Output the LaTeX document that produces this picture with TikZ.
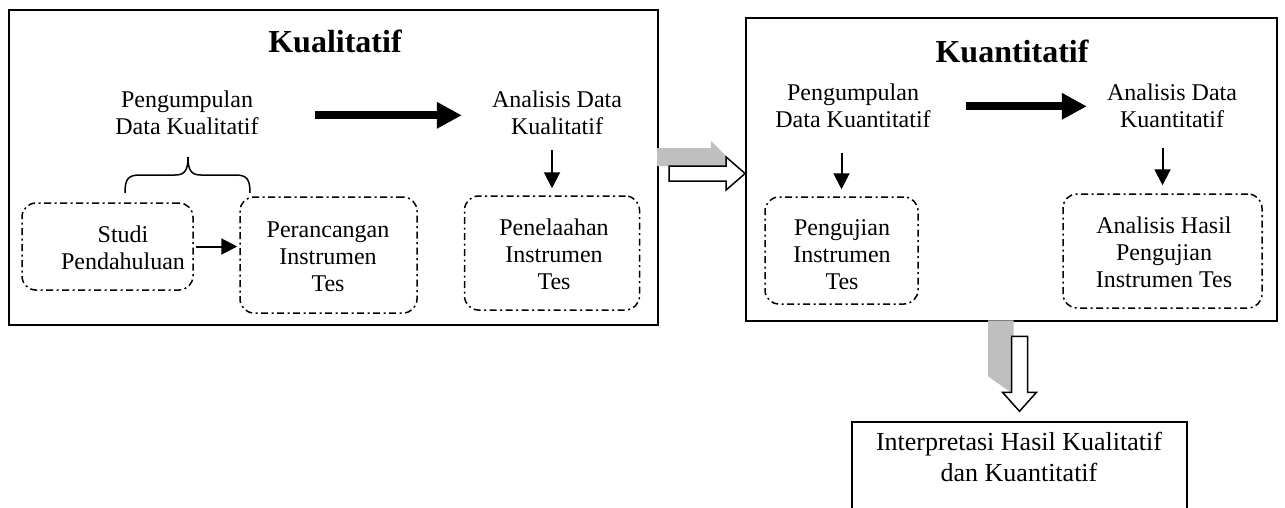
\documentclass[tikz,border=0pt]{standalone}
\usepackage{fontspec}
\setmainfont{Liberation Serif}
\usetikzlibrary{arrows.meta,calc}

\begin{document}
\begin{tikzpicture}[x=1pt,y=-1pt,
  frame/.style={draw, line width=1.8pt, inner sep=0pt},
  endbox/.style={draw, line width=1.5pt, inner sep=0pt},
  stepbox/.style={draw, line width=1.5pt, rounded corners=14pt,
    dash pattern=on 7pt off 3.5pt on 2pt off 3.5pt, inner sep=0pt},
  lbl/.style={inner sep=0pt, align=center, anchor=north,
    font=\fontsize{24}{27}\selectfont},
  endlbl/.style={inner sep=0pt, align=center, anchor=north,
    font=\fontsize{26}{31}\selectfont},
  ttl/.style={inner sep=0pt, anchor=base,
    font=\fontsize{32}{38}\selectfont\bfseries},
  bigarrow/.style={line width=8pt, -{Triangle[length=25pt,width=25pt]}},
  smallarrow/.style={line width=2pt, -{Triangle[length=16pt,width=16pt]}},
  shadow/.style={fill=black!25},
  blockarrow/.style={draw, fill=white, line width=1.5pt, line join=miter}
]
\useasboundingbox (0,0) rectangle (1285,507);
\clip (0,0) rectangle (1285,507);

% ---------------- qualitative phase ----------------
\node[frame, minimum width=649pt, minimum height=315pt] (qual) at (333.5,167.5) {};
\node[ttl] (qualtitle) at (335,52) {Kualitatif};

\node[lbl] (pk1) at (187,88.1) {\strut Pengumpulan\\\strut Data Kualitatif};
\node[lbl] (ak1) at (557,88.1) {\strut Analisis Data\\\strut Kualitatif};
\draw[bigarrow, shorten <=56pt, shorten >=30pt] (pk1.east) -- (ak1.west);

% brace grouping the first two steps
\draw[line width=1.5pt]
  (125,193) .. controls (125,179) and (128,175) .. (140,175) -- (175,175)
  .. controls (185,175) and (188,170) .. (188,157)
  .. controls (188,170) and (191,175) .. (201,175) -- (235,175)
  .. controls (247,175) and (250,179) .. (250,193);

\node[stepbox, minimum width=171pt, minimum height=87pt] (studibox) at (107.5,246.5) {};
\node[lbl] (studi) at (123,223.1) {\strut Studi\\\strut Pendahuluan};

\node[stepbox, minimum width=177pt, minimum height=116pt] (rancbox) at (328.5,255) {};
\node[lbl] (ranc) at (328,218.1) {\strut Perancangan\\\strut Instrumen\\\strut Tes};

\node[stepbox, minimum width=175pt, minimum height=114pt] (telaahbox) at (552,253) {};
\node[lbl] (telaah) at (554,216.1) {\strut Penelaahan\\\strut Instrumen\\\strut Tes};

\draw[smallarrow, shorten <=2pt, shorten >=2pt] (studibox.east) -- (studibox.east -| rancbox.west);
\draw[smallarrow, shorten <=7pt, shorten >=7pt] (ak1.south -| telaahbox.north) -- (telaahbox.north);

% ---------------- quantitative phase ----------------
\node[frame, minimum width=531pt, minimum height=303pt] (quan) at (1011.5,169.5) {};
\node[ttl] (quantitle) at (1012,62) {Kuantitatif};

\node[lbl] (pq1) at (853,81.1) {\strut Pengumpulan\\\strut Data Kuantitatif};
\node[lbl] (aq1) at (1172,81.1) {\strut Analisis Data\\\strut Kuantitatif};
\draw[bigarrow, shorten <=35pt, shorten >=20pt] ([yshift=2pt]pq1.east) -- ([yshift=2pt]aq1.west);

\node[stepbox, minimum width=153pt, minimum height=107pt] (ujibox) at (841.5,250.5) {};
\node[lbl] (uji) at (842,216.1) {\strut Pengujian\\\strut Instrumen\\\strut Tes};

\node[stepbox, minimum width=199pt, minimum height=114pt] (hasilbox) at (1162.5,251) {};
\node[lbl] (hasil) at (1164,214.1) {\strut Analisis Hasil\\\strut Pengujian\\\strut Instrumen Tes};

\draw[smallarrow, shorten <=17pt, shorten >=7pt] (pq1.south -| ujibox.north) -- (ujibox.north);
\draw[smallarrow, shorten <=12pt, shorten >=8pt] (aq1.south -| hasilbox.north) -- (hasilbox.north);

% ---------------- interpretation ----------------
\node[endbox, minimum width=335pt, minimum height=108pt] (final) at (1019.5,476) {};
\node[endlbl] (finaltext) at (1019,428.5) {\strut Interpretasi Hasil Kualitatif\\\strut dan Kuantitatif};

% ---------------- block arrows between phases ----------------
\path (quan.west) ++(0,4) coordinate (tipA);
\fill[shadow, shift={(tipA)}]
  (-88,-25.5) -- (-34,-25.5) -- (-34,-32.5) -- (-14,-12.5) -- (-14,-7.5) -- (-88,-7.5) -- cycle;
\draw[blockarrow] (tipA) -- ++(-19,-16.5) -- ++(0,9) -- ++(-57,0) -- ++(0,15)
  -- ++(57,0) -- ++(0,9) -- cycle;

\path (final.north) ++(0,-10) coordinate (tipB);
\fill[shadow, shift={(tipB)}]
  (-31.5,-91) -- (-6,-91) -- (-6,-17) -- (-31.5,-35) -- cycle;
\draw[blockarrow] (tipB) -- ++(-17,-19) -- ++(9,0) -- ++(0,-56) -- ++(16,0)
  -- ++(0,56) -- ++(9,0) -- cycle;
\end{tikzpicture}
\end{document}
